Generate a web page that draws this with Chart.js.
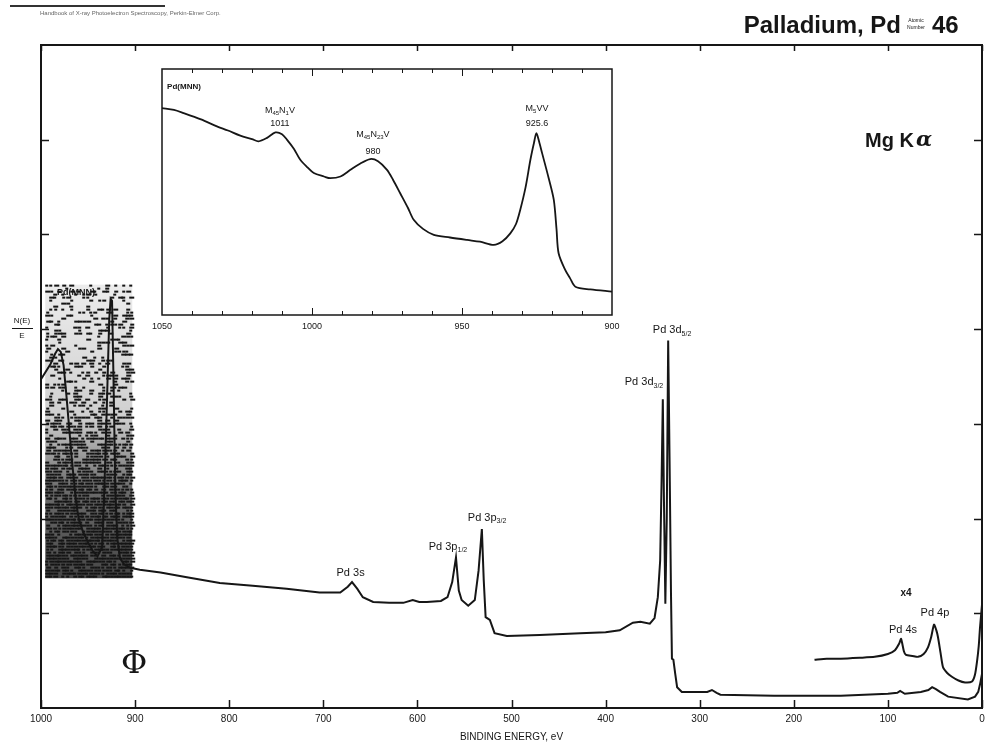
<!DOCTYPE html>
<html>
<head>
<meta charset="utf-8">
<title>Palladium, Pd — XPS survey</title>
<script src="https://cdn.jsdelivr.net/npm/chart.js@4.4.1/dist/chart.umd.min.js"></script>
<style>
  html, body { margin: 0; padding: 0; background: #fff; }
  #wrap { position: relative; width: 998px; height: 753px; }
  #inset { position: absolute; left: 150px; top: 60px; }
</style>
</head>
<body>
<div id="wrap">
  <canvas id="spectrum" width="998" height="753"></canvas>
  <canvas id="inset" width="480" height="280"></canvas>
</div>
<script>
// ── Survey spectrum, binding energy (eV) vs N(E)/E ─────────────────────────
const surveyEV = [
  1000, 995, 990, 985, 982, 979, 976, 973, 970, 967, 963, 960, 955, 950, 945,
  940, 935, 933, 930, 927.5, 926, 924.5, 923, 921, 919, 916, 912, 905, 895,
  873, 845, 810, 775, 739, 704, 682, 674, 669.5, 664, 658, 647, 630, 615, 605,
  598, 590, 575, 568, 563, 559, 556, 553, 546, 539, 535, 531.5, 529.5, 527.5,
  523, 518, 505, 470, 427, 400, 385, 371, 363, 353, 348, 344.5, 342, 340.5,
  339.2, 338, 336.5, 335, 333.5, 332, 330.5, 329.5, 328, 326, 324, 319, 300,
  292, 287, 282, 278, 221, 150, 100, 90, 87, 82, 65, 57, 53, 49, 44.6, 36,
  15, 7.4, 4, 2.1, 0
];
const surveyNE = [
  3.47, 3.55, 3.63, 3.74, 3.79, 3.76, 3.62, 3.30, 2.95, 2.60, 2.20, 2.00, 1.85, 1.75, 1.66,
  1.60, 1.70, 2.20, 3.20, 4.10, 4.32, 4.30, 3.50, 2.30, 1.80, 1.58, 1.52, 1.48, 1.46,
  1.43, 1.38, 1.32, 1.29, 1.26, 1.22, 1.22, 1.28, 1.33, 1.26, 1.17, 1.12, 1.11, 1.11, 1.14,
  1.12, 1.12, 1.13, 1.17, 1.33, 1.59, 1.24, 1.14, 1.08, 1.14, 1.45, 1.89, 1.35, 0.96,
  0.93, 0.79, 0.76, 0.77, 0.79, 0.80, 0.82, 0.90, 0.91, 0.89, 0.95, 1.17, 1.56, 2.40,
  3.26, 2.20, 1.10, 2.00, 3.88, 2.60, 1.20, 0.52, 0.51, 0.36, 0.22, 0.17, 0.17,
  0.17, 0.19, 0.16, 0.14, 0.13, 0.13, 0.15, 0.16, 0.18, 0.15, 0.17, 0.19, 0.22, 0.20, 0.17, 0.12,
  0.09, 0.12, 0.17, 0.25, 0.36
];

// ×4 trace of the valence / 4s / 4p region
const x4EV = [
  178, 165, 150, 130, 114, 100, 92.5, 88, 86, 83, 80.8, 74, 68, 62, 57.4, 54,
  51, 48.5, 46.8, 44, 41.4, 37, 32, 25, 18, 10.6, 7.5, 5.3, 3.5, 2.1, 0
];
const x4NE = [
  0.51, 0.52, 0.52, 0.53, 0.54, 0.57, 0.61, 0.68, 0.73, 0.60, 0.56, 0.55, 0.54, 0.57, 0.64, 0.75,
  0.88, 0.82, 0.75, 0.58, 0.43, 0.37, 0.33, 0.29, 0.27, 0.28, 0.35, 0.49, 0.65, 0.85, 1.09
];

// Pd(MNN) Auger detail, 1050–900 eV
const mnnEV = [
  1050, 1046, 1042.8, 1037, 1031.7, 1028, 1023.9, 1020, 1017.8, 1015, 1012.2, 1010,
  1008.3, 1006, 1003.9, 1001.5, 999.4, 996, 993.9, 990.5, 987.2, 984, 980.6, 978,
  975, 973, 970.6, 968, 966.1, 963, 959.4, 954, 948.3, 944, 939.4, 936.5, 933.9,
  932, 930.6, 928.8, 927.2, 926, 925.2, 924.2, 923.3, 921.1, 919.4, 918.5, 917.8,
  915.6, 914, 912.2, 907.2, 900
];
const mnnNE = [
  84.1, 83.4, 82.1, 79.5, 76.7, 75.0, 72.9, 71.5, 70.6, 72.0, 74.2, 73.5,
  71.2, 67.5, 63.1, 60.0, 57.7, 56.3, 55.6, 56.3, 59.0, 61.5, 63.4, 62.5,
  59.0, 55.0, 49.5, 43.5, 38.7, 35.0, 32.6, 31.5, 30.5, 29.8, 28.5, 30.0, 33.2,
  37.0, 42.7, 52.0, 63.1, 70.0, 73.9, 70.0, 65.8, 55.6, 46.8, 35.0, 25.1,
  18.3, 15.0, 11.5, 10.4, 9.5
];

const surveyTicks = [0, 100, 200, 300, 400, 500, 600, 700, 800, 900, 1000];
const mnnTicks = [900, 950, 1000, 1050];

// ── Fonts / helpers ───────────────────────────────────────────────────────
const SANS = "'Liberation Sans', Arial, Helvetica, sans-serif";
const INK = '#161616';

const pts = (xs, ys) => xs.map((x, i) => ({ x, y: ys[i] }));

// text with subscript runs: parts = [[text, isSub], ...]
function richText(ctx, parts, x, y, size, align = 'center', weight = '') {
  const big = `${weight} ${size}px ${SANS}`;
  const small = `${weight} ${Math.round(size * 0.68)}px ${SANS}`;
  let w = 0;
  parts.forEach(([t, sub]) => { ctx.font = sub ? small : big; w += ctx.measureText(t).width; });
  let cx = align === 'center' ? x - w / 2 : align === 'right' ? x - w : x;
  ctx.textAlign = 'left';
  ctx.textBaseline = 'middle';
  parts.forEach(([t, sub]) => {
    ctx.font = sub ? small : big;
    ctx.fillText(t, cx, y + (sub ? size * 0.32 : 0));
    cx += ctx.measureText(t).width;
  });
}

// ── Survey plugins ────────────────────────────────────────────────────────
// the smudged, over-inked strip behind the MNN lines at the left edge
const inkStrip = {
  id: 'inkStrip',
  beforeDatasetsDraw(chart) {
    const { ctx, scales: { x, y } } = chart;
    const x0 = x.getPixelForValue(995.5), x1 = x.getPixelForValue(903);
    const y0 = y.getPixelForValue(4.47), y1 = y.getPixelForValue(1.37);
    const h = y1 - y0;
    ctx.save();
    ctx.fillStyle = '#ececec';
    ctx.fillRect(x0, y0, x1 - x0, h);
    // darker wash towards the bottom of the strip
    const wash = ctx.createLinearGradient(0, y0, 0, y1);
    wash.addColorStop(0, 'rgba(0,0,0,0)');
    wash.addColorStop(0.45, 'rgba(0,0,0,0.12)');
    wash.addColorStop(0.7, 'rgba(0,0,0,0.55)');
    wash.addColorStop(1, 'rgba(0,0,0,0.7)');
    ctx.fillStyle = wash;
    ctx.fillRect(x0, y0, x1 - x0, h);
    ctx.fillStyle = '#151515';
    for (let j = 0; j * 3 < h; j++) {
      const t = (j * 3) / h;
      const dens = t < 0.38 ? 0.34 : Math.min(0.9, 0.34 + (t - 0.38) * 2.0);
      for (let i = 0; x0 + i * 4 < x1 - 2; i++) {
        let k = (i * 374761393 + j * 668265263) >>> 0;
        k = Math.imul(k ^ (k >>> 13), 1274126177) >>> 0;
        if ((k % 1000) / 1000 < dens) {
          ctx.fillRect(x0 + i * 4 + ((k >>> 10) & 1), y0 + j * 3, 3 + ((k >>> 12) % 3), 2);
        }
      }
    }
    ctx.restore();
  }
};

const surveyFrame = {
  id: 'surveyFrame',
  afterDraw(chart) {
    const { ctx, chartArea: a, scales: { x, y } } = chart;
    ctx.save();
    ctx.strokeStyle = INK;
    ctx.fillStyle = INK;

    // frame + inward ticks
    ctx.lineWidth = 2;
    ctx.strokeRect(a.left, a.top, a.right - a.left, a.bottom - a.top);
    ctx.lineWidth = 1.5;
    ctx.beginPath();
    surveyTicks.forEach(v => {
      const px = Math.round(x.getPixelForValue(v)) + 0.5;
      ctx.moveTo(px, a.bottom); ctx.lineTo(px, a.bottom - 8);
      ctx.moveTo(px, a.top); ctx.lineTo(px, a.top + 6);
    });
    for (let v = 1; v <= 6; v++) {
      const py = Math.round(y.getPixelForValue(v)) + 0.5;
      ctx.moveTo(a.left, py); ctx.lineTo(a.left + 8, py);
      ctx.moveTo(a.right, py); ctx.lineTo(a.right - 8, py);
    }
    ctx.stroke();

    // peak labels, placed in data coordinates
    const at = (ev, v) => [x.getPixelForValue(ev), y.getPixelForValue(v)];
    const lab = (parts, ev, v, size = 11, align = 'center', weight = '') => {
      const [px, py] = at(ev, v);
      richText(ctx, parts, px, py, size, align, weight);
    };
    lab([['Pd 3s']], 671, 1.43);
    lab([['Pd 3p'], ['1/2', 1]], 567.5, 1.70);
    lab([['Pd 3p'], ['3/2', 1]], 526, 2.01);
    lab([['Pd 3d'], ['5/2', 1]], 329.4, 3.99);
    lab([['Pd 3d'], ['3/2', 1]], 359.2, 3.44);
    lab([['x4']], 80.8, 1.21, 10, 'center', 'bold');
    lab([['Pd 4p']], 50, 1.0);
    lab([['Pd 4s']], 84, 0.82);
    lab([['Pd(MNN)']], 962.8, 4.39, 9, 'center', 'bold');

    // y-axis quantity, N(E)/E
    ctx.font = `8px ${SANS}`;
    ctx.textAlign = 'center';
    ctx.textBaseline = 'middle';
    ctx.fillText('N(E)', 22, 321);
    ctx.fillText('E', 22, 336);
    ctx.lineWidth = 1;
    ctx.beginPath(); ctx.moveTo(12, 328.5); ctx.lineTo(33, 328.5); ctx.stroke();

    // x-axis title
    ctx.font = `10px ${SANS}`;
    ctx.fillText('BINDING ENERGY, eV', x.getPixelForValue(500), 737);

    // source, excitation, header
    ctx.font = `bold 20px ${SANS}`;
    ctx.textAlign = 'right';
    ctx.fillText('Mg K', 914, 141);
    ctx.font = `italic bold 21px 'DejaVu Serif', serif`;
    ctx.textAlign = 'left';
    ctx.fillText('α', 916, 141);

    ctx.font = `32px 'DejaVu Serif', 'Liberation Serif', serif`;
    ctx.textAlign = 'center';
    ctx.fillText('Φ', 134, 665);

    ctx.font = `bold 24px ${SANS}`;
    ctx.textAlign = 'right';
    ctx.textBaseline = 'alphabetic';
    ctx.fillText('Palladium, Pd', 901, 33);
    ctx.textAlign = 'left';
    ctx.fillText('46', 932, 33);
    ctx.font = `5px ${SANS}`;
    ctx.textAlign = 'center';
    ctx.fillText('Atomic', 916, 22);
    ctx.fillText('Number', 916, 29);

    ctx.fillStyle = '#666';
    ctx.font = `6px ${SANS}`;
    ctx.textAlign = 'left';
    ctx.fillText('Handbook of X-ray Photoelectron Spectroscopy, Perkin-Elmer Corp.', 40, 15);
    ctx.strokeStyle = '#333';
    ctx.lineWidth = 2;
    ctx.beginPath(); ctx.moveTo(10, 6); ctx.lineTo(165, 6); ctx.stroke();
    ctx.restore();
  }
};

new Chart(document.getElementById('spectrum'), {
  type: 'line',
  data: {
    datasets: [
      { data: pts(surveyEV, surveyNE), borderColor: INK, borderWidth: 2, pointRadius: 0, tension: 0 },
      { data: pts(x4EV, x4NE), borderColor: INK, borderWidth: 2, pointRadius: 0, tension: 0.2 }
    ]
  },
  options: {
    responsive: false,
    animation: false,
    events: [],
    layout: { padding: { left: 41, right: 16, top: 45, bottom: 0 } },
    scales: {
      x: {
        type: 'linear', min: 0, max: 1000, reverse: true,
        afterFit: s => { s.height = 45; },
        afterBuildTicks: s => { s.ticks = surveyTicks.map(value => ({ value })); },
        grid: { display: false, drawTicks: false },
        border: { display: false },
        ticks: {
          color: INK, font: { size: 10, family: SANS }, padding: 5, maxRotation: 0, autoSkip: false,
          callback: v => String(v)
        }
      },
      y: { display: false, min: 0, max: 7 }
    },
    plugins: { legend: { display: false }, tooltip: { enabled: false } }
  },
  plugins: [inkStrip, surveyFrame]
});

// ── Inset: Pd(MNN) ───────────────────────────────────────────────────────
const insetFrame = {
  id: 'insetFrame',
  beforeDraw(chart) {
    const { ctx, chartArea: a } = chart;
    ctx.save();
    ctx.fillStyle = '#fff';
    ctx.fillRect(a.left, a.top, a.right - a.left, a.bottom - a.top);
    ctx.restore();
  },
  afterDraw(chart) {
    const { ctx, chartArea: a, scales: { x, y } } = chart;
    ctx.save();
    ctx.strokeStyle = INK;
    ctx.fillStyle = INK;
    ctx.lineWidth = 1.5;
    ctx.strokeRect(a.left, a.top, a.right - a.left, a.bottom - a.top);
    ctx.lineWidth = 1;
    ctx.beginPath();
    for (let v = 910; v < 1050; v += 10) {
      const len = v % 50 === 0 ? 7 : 4;
      const px = Math.round(x.getPixelForValue(v)) + 0.5;
      ctx.moveTo(px, a.bottom); ctx.lineTo(px, a.bottom - len);
      ctx.moveTo(px, a.top); ctx.lineTo(px, a.top + len);
    }
    ctx.stroke();

    const lab = (parts, ev, v, size = 9, align = 'center', weight = '') =>
      richText(ctx, parts, x.getPixelForValue(ev), y.getPixelForValue(v), size, align, weight);
    lab([['Pd(MNN)']], 1048.3, 92.7, 8, 'left', 'bold');
    lab([['M'], ['45', 1], ['N'], ['1', 1], ['V']], 1010.7, 83.3);
    lab([['1011']], 1010.7, 78.0);
    lab([['M'], ['45', 1], ['N'], ['23', 1], ['V']], 979.7, 73.2);
    lab([['980']], 979.7, 66.3);
    lab([['M'], ['5', 1], ['VV']], 925, 84.1);
    lab([['925.6']], 925, 78.0);
    ctx.restore();
  }
};

new Chart(document.getElementById('inset'), {
  type: 'line',
  data: {
    datasets: [
      { data: pts(mnnEV, mnnNE), borderColor: INK, borderWidth: 1.8, pointRadius: 0, tension: 0.3 }
    ]
  },
  options: {
    responsive: false,
    animation: false,
    events: [],
    layout: { padding: { left: 12, right: 18, top: 9, bottom: 0 } },
    scales: {
      x: {
        type: 'linear', min: 900, max: 1050, reverse: true,
        afterFit: s => { s.height = 25; },
        afterBuildTicks: s => { s.ticks = mnnTicks.map(value => ({ value })); },
        grid: { display: false, drawTicks: false },
        border: { display: false },
        ticks: {
          color: INK, font: { size: 9, family: SANS }, padding: 6, maxRotation: 0, autoSkip: false,
          callback: v => String(v)
        }
      },
      y: { display: false, min: 0, max: 100 }
    },
    plugins: { legend: { display: false }, tooltip: { enabled: false } }
  },
  plugins: [insetFrame]
});
</script>
</body>
</html>
